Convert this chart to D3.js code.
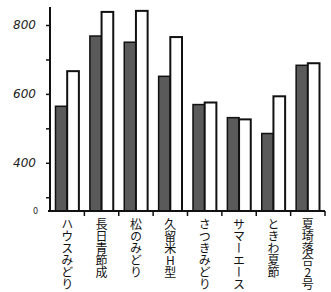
<!DOCTYPE html>
<html><head><meta charset="utf-8">
<script src="https://cdn.jsdelivr.net/npm/d3@7"></script>
<style>body{margin:0;background:#fff}</style>
</head><body>
<svg id="c" width="331" height="292"></svg>
<script>
const categories = ["ハウスみどり","長日青節成","松のみどり","久留米H型","さつきみどり","サマーエース","ときわ夏節","夏埼落合2号"];
const seriesDark = [564, 768, 750, 651, 569, 531, 485, 683];
const seriesWhite = [666, 838, 841, 765, 575, 526, 593, 689];
const tickValues = [300, 400, 500, 600, 700, 800];
const tickLabels = {400: "400", 600: "600", 800: "800"};

const svg = d3.select("#c");
const baseY = 211, left = 50, right = 325;
const y = d3.scaleLinear().domain([260, 800]).range([baseY, 25]);
const x = d3.scaleBand().domain(categories).range([left, right]).paddingInner(0.32).paddingOuter(0.16);
const xs = d3.scaleBand().domain(["d","w"]).range([0, x.bandwidth()]);

const rows = categories.map((c,i)=>({c, d: seriesDark[i], w: seriesWhite[i]}));
const g = svg.selectAll("g.grp").data(rows).join("g").attr("transform", d=>`translate(${x(d.c)},0)`);
g.append("rect").attr("x", xs("d")).attr("width", xs.bandwidth())
  .attr("y", d=>y(d.d)).attr("height", d=>baseY - y(d.d))
  .attr("fill", "#5a5a5a").attr("stroke", "#111").attr("stroke-width", 1.5);
g.append("rect").attr("x", xs("w")).attr("width", xs.bandwidth())
  .attr("y", d=>y(d.w)).attr("height", d=>baseY - y(d.w))
  .attr("fill", "#fff").attr("stroke", "#111").attr("stroke-width", 2);

// y axis
const yAxis = d3.axisLeft(y).tickValues(tickValues).tickSize(4).tickFormat(v => tickLabels[v] || "");
const ya = svg.append("g").attr("transform", `translate(${left},0)`).call(yAxis);
ya.select(".domain").remove();
ya.selectAll(".tick line").attr("stroke", "#111").attr("stroke-width", 1.5);
ya.selectAll(".tick text").attr("x", -14).attr("font-family", "DejaVu Sans").attr("font-style", "italic")
  .attr("font-size", 12).attr("fill", "#222");
svg.append("line").attr("x1", left).attr("x2", left).attr("y1", 7).attr("y2", baseY + 1)
  .attr("stroke", "#111").attr("stroke-width", 2);
svg.append("text").attr("x", 33).attr("y", baseY + 3).attr("font-size", 8).attr("font-family", "DejaVu Sans").attr("fill", "#222").text("0");

// x axis
svg.append("line").attr("x1", left - 2).attr("x2", right).attr("y1", baseY).attr("y2", baseY)
  .attr("stroke", "#111").attr("stroke-width", 2);
const bounds = categories.map(c => x(c) + x.bandwidth() + x.step()*x.paddingInner()/2);
svg.selectAll("line.xt").data(bounds).join("line").attr("class","xt")
  .attr("x1", d=>d).attr("x2", d=>d).attr("y1", baseY).attr("y2", baseY + 5)
  .attr("stroke", "#111").attr("stroke-width", 1.5);

svg.selectAll("text.lab").data(categories).join("text").attr("class","lab")
  .attr("x", d=>x(d) + x.bandwidth()/2).attr("y", 218)
  .attr("writing-mode", "vertical-rl").style("text-orientation", "upright")
  .attr("font-family", "Noto Sans CJK JP").attr("font-size", 12).attr("fill", "#111")
  .text(d=>d);
</script>
</body></html>
